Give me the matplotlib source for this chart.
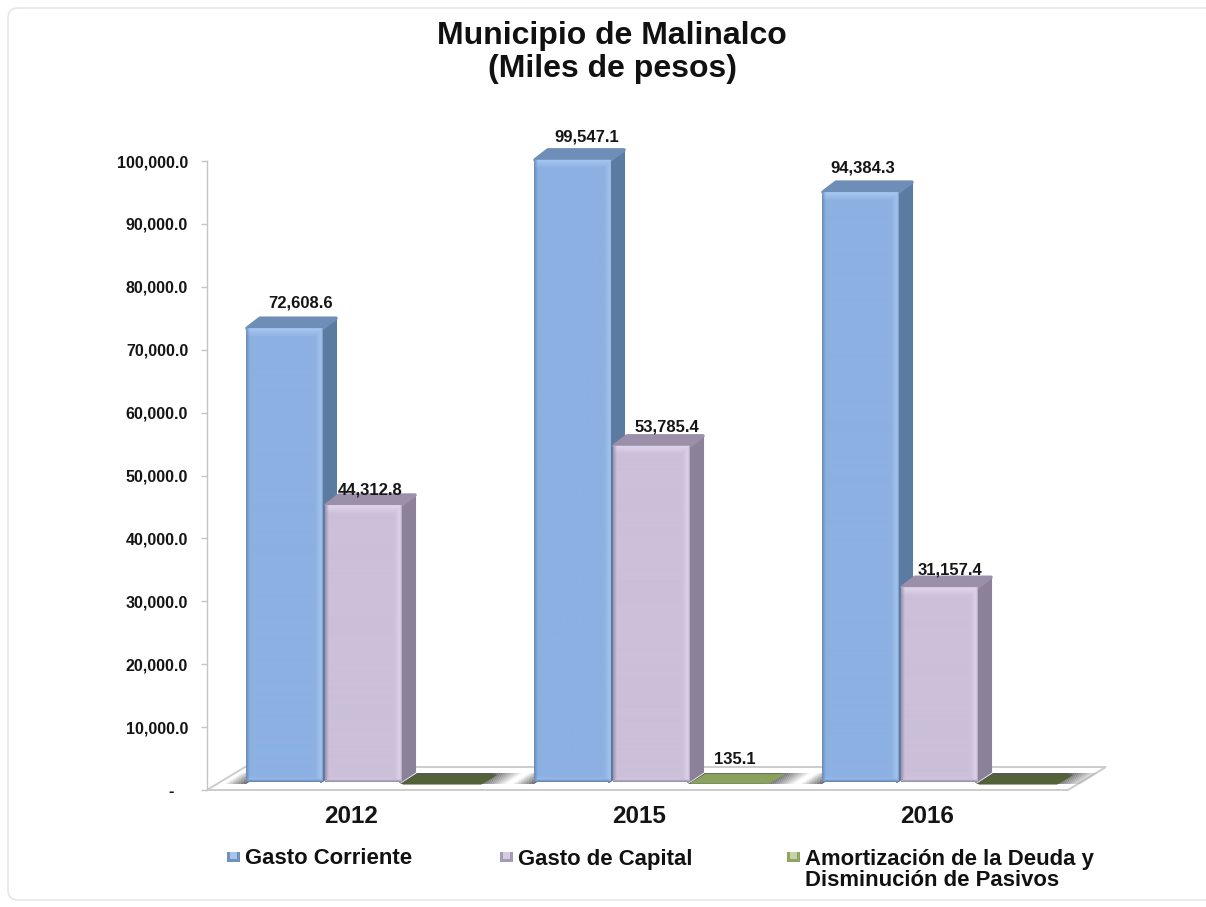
import numpy as np
import matplotlib
matplotlib.use("Agg")
import matplotlib.pyplot as plt
from matplotlib.patches import Polygon, FancyBboxPatch, Rectangle
from matplotlib.colors import to_rgb

plt.rcParams['font.family'] = ['Liberation Sans', 'DejaVu Sans']
plt.rcParams['font.weight'] = 'bold'

# ---- data ----
years = ['2012', '2015', '2016']
gasto_corriente = [72608.6, 99547.1, 94384.3]
gasto_capital = [44312.8, 53785.4, 31157.4]
amortizacion = [0.0, 135.1, 0.0]
tick_values = [0, 10000, 20000, 30000, 40000, 50000, 60000, 70000, 80000, 90000, 100000]
tick_labels = ['-\u00a0\u00a0\u00a0', '10,000.0', '20,000.0', '30,000.0', '40,000.0', '50,000.0',
               '60,000.0', '70,000.0', '80,000.0', '90,000.0', '100,000.0']
legend_labels = ['Gasto Corriente', 'Gasto de Capital',
                 'Amortización de la Deuda y\nDisminución de Pasivos']

# ---- layout (pixels) ----
W, H = 1206, 907
fig = plt.figure(figsize=(W / 100, H / 100), dpi=100, facecolor='white')

canvas = fig.add_axes([0, 0, 1, 1], zorder=0)
canvas.set_xlim(0, W)
canvas.set_ylim(H, 0)
canvas.axis('off')

X_LEFT, X_RIGHT = 207, 1107
GROUP_PX = 288.0
GROUP0_PX = 362.5
xlim = ((X_LEFT - GROUP0_PX) / GROUP_PX, (X_RIGHT - GROUP0_PX) / GROUP_PX)

ax = fig.add_axes([X_LEFT / W, (H - 790) / H, (X_RIGHT - X_LEFT) / W, 629 / H], zorder=1)
ax.patch.set_alpha(0)
ax.set_xlim(*xlim)
ax.set_ylim(0, 100000)
for s in ['top', 'right', 'bottom']:
    ax.spines[s].set_visible(False)
ax.spines['left'].set_color('#c4c4c4')
ax.spines['left'].set_linewidth(1.0)
ax.set_yticks(tick_values)
ax.set_yticklabels(tick_labels, fontsize=11.5, color='#151515', fontweight='bold')
ax.tick_params(axis='y', length=4, width=1, color='#c4c4c4', pad=9.5)
ax.set_xticks(np.arange(3) - 11.5 / GROUP_PX)
ax.set_xticklabels(years, fontsize=17.5, color='#151515', fontweight='bold')
ax.tick_params(axis='x', length=0, pad=11)

bx = fig.add_axes([X_LEFT / W, (H - 782) / H, (X_RIGHT - X_LEFT) / W, 625 / H], zorder=2)
bx.patch.set_alpha(0)
bx.axis('off')
PX_PER_UNIT = 625 / 100000
BAR_PX = 77
BAR_W = BAR_PX / GROUP_PX
DX = 13 / GROUP_PX
DY = 10 / PX_PER_UNIT
ROUND = 4 / GROUP_PX
ASPECT = (1 / PX_PER_UNIT) / GROUP_PX

# ---- frame ----
canvas.add_patch(FancyBboxPatch((8, 8), W + 40, 892, boxstyle='round,pad=0,rounding_size=10',
                                fc='white', ec='#e6e6e6', lw=1.2, zorder=0))

# ---- floor ----
canvas.add_patch(Polygon([(X_LEFT, 790), (245, 767), (1106, 767), (1068, 790)], closed=True,
                         fc='white', ec='#cccccc', lw=1.4, zorder=1))


def shadow(x0, x1, a0, a1, n=14):
    edges = np.linspace(x0, x1, n + 1)
    for i in range(n):
        a = a0 + (a1 - a0) * (i + 0.5) / n
        canvas.add_patch(Polygon([(edges[i], 784), (edges[i] + 17, 773), (edges[i + 1] + 17, 773),
                                  (edges[i + 1], 784)], closed=True, fc='#454545', ec='none',
                                 alpha=a, zorder=2))


for i in range(3):
    off = i * GROUP_PX
    shadow(224 + off, 246 + off, 0.0, 0.95)
    shadow(400 + off, 478 + off, 0.9, 0.9, n=1)
    shadow(478 + off, 506 + off, 0.9, 0.0)


def gradient_img(w, h, base, light, dark):
    w, h = max(int(w), 2), max(int(h), 2)
    base, light, dark = map(lambda c: np.array(to_rgb(c)), (base, light, dark))
    xs = np.arange(w)[None, :] + 0.5
    ys = np.arange(h)[:, None] + 0.5
    d_l = xs * np.ones((h, w))
    d_r = (w - xs) * np.ones((h, w))
    d_t = ys * np.ones((h, w))
    d_b = (h - ys) * np.ones((h, w))
    k_r = np.clip(1 - (d_r - 2) / 6, 0, 1) * 0.9
    k_t = np.clip(1 - (d_t - 2) / 7, 0, 1)
    k_b = np.clip(1 - (d_b - 2) / 4, 0, 1) * 0.5
    k_light = np.maximum(np.maximum(k_r, k_t), k_b)
    k_dark = np.maximum(np.clip(1 - d_l / 4, 0, 1) * 0.8,
                        np.maximum(np.clip(1 - d_b / 3, 0, 1), np.clip(1 - d_r / 1.8, 0, 1) * 0.6))
    img = base[None, None, :] * (1 - k_light[..., None]) + light[None, None, :] * k_light[..., None]
    img = img * (1 - k_dark[..., None]) + dark[None, None, :] * k_dark[..., None]
    return img


def rounded(xp, v, **kw):
    return FancyBboxPatch((xp, 0), BAR_W, v, boxstyle=f'round,pad=0,rounding_size={ROUND}',
                          mutation_aspect=ASPECT, clip_on=False, **kw)


def bar3d(xpos, values, front, light, edge, side, top, z):
    bars = bx.bar(xpos, values, width=BAR_W, align='edge', color='none', edgecolor='none',
                  linewidth=0, zorder=z + 2)
    for xp, v, rect in zip(xpos, values, bars):
        bx.add_patch(Polygon([(xp + BAR_W - 2 / GROUP_PX, 0), (xp + BAR_W + DX, DY),
                              (xp + BAR_W + DX, v + DY), (xp + BAR_W, v)], closed=True,
                             fc=side, ec=side, lw=1.5, joinstyle='round', zorder=z, clip_on=False))
        bx.add_patch(Polygon([(xp + 1 / GROUP_PX, v), (xp + DX + 1 / GROUP_PX, v + DY),
                              (xp + BAR_W + DX, v + DY), (xp + BAR_W, v)],
                             closed=True, fc=top, ec=top, lw=2.5, joinstyle='round',
                             zorder=z + 1, clip_on=False))
        face = rounded(xp, v, fc=front, ec='none', zorder=z + 2)
        bx.add_patch(face)
        img = gradient_img(BAR_PX, v * PX_PER_UNIT, front, light, edge)
        im = bx.imshow(img, extent=(xp, xp + BAR_W, 0, v), aspect='auto', zorder=z + 3,
                       interpolation='bilinear', origin='upper')
        im.set_clip_path(face)
        im.set_clip_on(True)


x = np.arange(3)
x_blue = x - 1.5 * BAR_W - 1 / GROUP_PX
x_pink = x - 0.5 * BAR_W + 1 / GROUP_PX
x_green = x + 0.5 * BAR_W + 2 / GROUP_PX

bar3d(x_blue, gasto_corriente, '#8CB0E2', '#A3C4EE', '#5E7FAB', '#5C7BA0', '#6E8EB8', 10)
bar3d(x_pink, gasto_capital, '#CBBFD9', '#DCD3E8', '#8F86A0', '#8B8299', '#9C8FA9', 20)

# third series lies flat on the floor
FLOOR_DROP = 2 / PX_PER_UNIT
GREEN_W = 78 / GROUP_PX
for xp, v in zip(x_green, amortizacion):
    col = '#8BA25E' if v > 0 else '#536338'
    bx.add_patch(Polygon([(xp, -FLOOR_DROP + v), (xp + 15 / GROUP_PX, -FLOOR_DROP + v + 9 / PX_PER_UNIT),
                          (xp + 15 / GROUP_PX + GREEN_W, -FLOOR_DROP + v + 9 / PX_PER_UNIT),
                          (xp + GREEN_W, -FLOOR_DROP + v)], closed=True, fc=col, ec=col, lw=0.8,
                         joinstyle='round', zorder=5, clip_on=False))

bx.set_xlim(*xlim)
bx.set_ylim(0, 100000)

# ---- value labels ----
lab_kw = dict(ha='center', va='center', fontsize=12, color='#151515', fontweight='bold',
              textcoords='offset pixels', zorder=40, annotation_clip=False)
nudge_blue = [(16, 25), (14, 23), (2, 24)]
nudge_pink = [(7, 15), (15, 19), (10, 17)]
for xp, v, n in zip(x_blue, gasto_corriente, nudge_blue):
    bx.annotate(f'{v:,.1f}', (xp + BAR_W / 2, v), xytext=n, **lab_kw)
for xp, v, n in zip(x_pink, gasto_capital, nudge_pink):
    bx.annotate(f'{v:,.1f}', (xp + BAR_W / 2, v), xytext=n, **lab_kw)
for xp, v in zip(x_green, amortizacion):
    if v > 0:
        bx.annotate(f'{v:,.1f}', (xp + BAR_W / 2, v), xytext=(5, 22), **lab_kw)

# ---- title ----
canvas.text(612, 36, 'Municipio de Malinalco', ha='center', va='center', fontsize=23,
            color='#111111', fontweight='bold', zorder=5)
canvas.text(612, 69, '(Miles de pesos)', ha='center', va='center', fontsize=23,
            color='#111111', fontweight='bold', zorder=5)

# ---- legend ----
legend_swatch = [(227, '#6E92BE', '#A9C4E6'), (500, '#A49BB4', '#D5CCE0'), (787, '#8FA662', '#C6D3A4')]
legend_text_x = [245, 518, 805]
for (sx, c1, c2), tx, lab in zip(legend_swatch, legend_text_x, legend_labels):
    canvas.add_patch(Rectangle((sx, 852), 13, 10, fc=c1, ec='none', zorder=5))
    canvas.add_patch(Rectangle((sx + 3, 852), 7, 7, fc=c2, ec='none', zorder=6))
    lines = lab.split('\n')
    for j, line in enumerate(lines):
        canvas.text(tx, 859 + 22 * j, line, ha='left', va='center', fontsize=15.9,
                    color='#111111', fontweight='bold', zorder=5)

fig.savefig('out.png', dpi=100, facecolor='white')
